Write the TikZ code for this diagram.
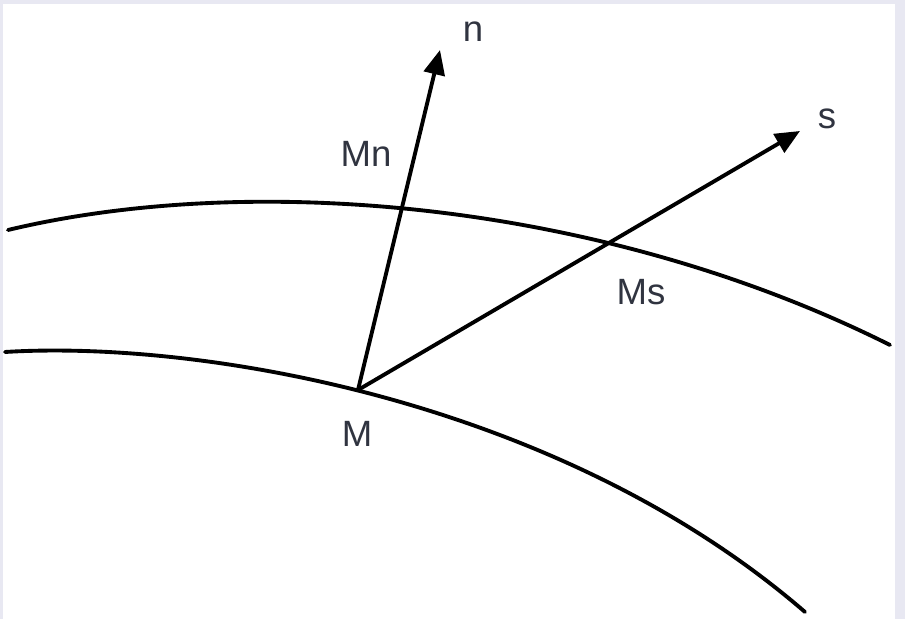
\documentclass[tikz,border=0pt]{standalone}
\usepackage{fontspec}
\setmainfont{Liberation Sans}
\usepackage{tikz}
\usetikzlibrary{arrows.meta}
\usetikzlibrary{positioning}
\usepackage{xcolor}
\definecolor{framegray}{RGB}{232,232,242}
\definecolor{labelgray}{RGB}{48,52,64}
\tikzset{
    curve/.style={line width=1.1pt, line cap=round},
    vec/.style={line width=1.1pt, -{Triangle[length=7pt, width=6pt]}},
    lbl/.style={text=labelgray, inner sep=0pt, font=\fontsize{10.4}{12}\selectfont},
}

\begin{document}
\begin{tikzpicture}[x=0.01cm, y=-0.01cm]
            \useasboundingbox (0,0) rectangle (905,619);
            \fill[framegray] (0,0) rectangle (905,619);
            \fill[white] (3,4) rectangle (895,619);

            \path
                (358,390) coordinate (M)
                +(82,-340) coordinate (n-tip)
                +(442,-259) coordinate (s-tip);

            \draw[curve] (8,230) .. controls (250,172) and (600,200) .. (890,345);
            \draw[curve] (5,352) .. controls (200,340) and (560,400) .. (805,612);

            \draw[vec] (M) -- (n-tip);
            \draw[vec] (M) -- (s-tip);

            \node[lbl] (M-label) at (357,434) {M};
            \node[lbl] (n-label) at (473,32) {n};
            \node[lbl] (s-label) at (827,119) {s};
            \node[lbl] (Mn-label) at (366,154) {Mn};
            \node[lbl] (Ms-label) at (641,292) {Ms};
          \end{tikzpicture}
\end{document}
